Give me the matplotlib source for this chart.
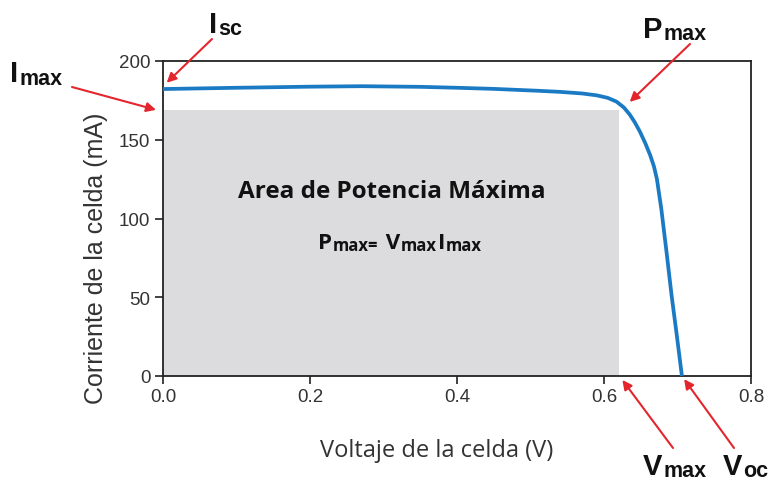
import matplotlib.pyplot as plt
from matplotlib.patches import Rectangle

### Data
volt = [0.0, 0.1, 0.2, 0.27, 0.35, 0.40, 0.45, 0.51, 0.54, 0.57, 0.59, 0.605,
        0.617, 0.627, 0.635, 0.642, 0.649, 0.656, 0.663, 0.668, 0.672, 0.678,
        0.685, 0.692, 0.699, 0.706]
curr = [182.2, 183.0, 183.7, 184.0, 183.6, 183.0, 182.3, 181.1, 180.4, 179.4,
        178.2, 176.6, 174.2, 170.5, 166.0, 161.0, 155.0, 148.0, 140.0, 133.0,
        125.0, 106.0, 79.0, 51.0, 26.0, 0.0]

v_max = 0.62    # V
i_max = 169.0   # mA
i_sc = 182.2
v_oc = 0.706

xticks = [0.0, 0.2, 0.4, 0.6, 0.8]
xticklabels = ['0.0', '0.2', '0.4', '0.6', '0.8']
yticks = [0, 50, 100, 150, 200]

W, H = 769, 485
tick_col = '#333333'
red = '#e3262d'
blue = '#1b7ac4'
grey = '#dcdcde'
seg = ['Open Sans', 'DejaVu Sans']   # Segoe-like face for the inner texts

fig = plt.figure(figsize=(W / 100, H / 100), dpi=100)
ax = fig.add_axes([163 / W, 1 - 377 / H, (751 - 163) / W, (377 - 62) / H])

### shaded max-power rectangle + IV curve
ax.add_patch(Rectangle((0, 0), v_max, i_max, facecolor=grey, edgecolor='none', zorder=1))
ax.plot(volt, curr, color=blue, linewidth=2.7, solid_capstyle='butt',
        solid_joinstyle='round', zorder=3)

ax.set_xlim(0, 0.8)
ax.set_ylim(0, 200)
ax.set_xticks(xticks)
ax.set_xticklabels(xticklabels)
ax.set_yticks(yticks)
ax.tick_params(axis='both', direction='out', length=6, width=1.3, colors=tick_col,
               labelsize=13.5, pad=3)
for lab in ax.get_xticklabels() + ax.get_yticklabels():
    lab.set_family('Liberation Sans')
for sp in ax.spines.values():
    sp.set_linewidth(1.3)
    sp.set_color('#222222')

ax.set_xlabel('Voltaje de la celda (V)', fontsize=17, family=seg, color=tick_col)
ax.xaxis.set_label_coords((437 - 163) / 588, -(439 - 377) / 315)
ax.set_ylabel('Corriente de la celda (mA)', fontsize=18, family='Liberation Sans',
              color=tick_col)
ax.yaxis.set_label_coords((108 - 163) / 588, (377 - 258) / 315)

renderer = fig.canvas.get_renderer()


def px(x, y):
    # image pixels (origin top-left) -> figure fraction
    return x / W, 1 - y / H


def chain(x, y, pieces, family, color='#111111'):
    ### pieces: (text, size, drop) written one after the other on one baseline
    for txt, size, drop in pieces:
        t = fig.text(*px(x, y + drop), txt, fontsize=size, fontweight='bold',
                     family=family, va='baseline', ha='left', color=color)
        bb = t.get_window_extent(renderer)
        x = bb.x1 + 1


### Corner labels
lab_font = 'Liberation Sans'
chain(10, 82, [('I', 21, 0), ('max', 15.5, 3)], lab_font)
chain(209, 33, [('I', 21, 0), ('sc', 15.5, 2)], lab_font)
chain(643, 38, [('P', 21, 0), ('max', 15.5, 2)], lab_font)
chain(643, 475, [('V', 21, 0), ('max', 15.5, 2)], lab_font)
chain(723, 475, [('V', 21, 0), ('oc', 15.5, 2)], lab_font)

### Text inside the shaded area
fig.text(*px(392, 198), 'Area de Potencia Máxima', fontsize=17.5, fontweight='bold',
         family=seg, ha='center', va='baseline', color='#111111')
chain(318, 249, [('P', 16, 0), ('max=', 12, 2), (' V', 16, 0), ('max', 12, 2),
                 ('I', 16, 0), ('max', 12, 2)], seg)

### Red arrows (tail in image pixels, tip on the data)
arrows = [
    ((212, 40), (0.005, i_sc + 4)),
    ((72, 88), (-0.0095, i_max)),
    ((690, 45), (v_max + 0.015, i_max + 5)),
    ((673, 449), (v_max + 0.005, -2.5)),
    ((734, 449), (v_oc + 0.003, -2)),
]
for (tx, ty), tip in arrows:
    ax.annotate('', xy=tip, xycoords='data', xytext=(tx, H - ty), textcoords='figure pixels',
                arrowprops=dict(arrowstyle='-|>', color=red, lw=1.5, mutation_scale=14,
                                shrinkA=0, shrinkB=0),
                annotation_clip=False, zorder=5)

fig.savefig('out.png', dpi=100)
